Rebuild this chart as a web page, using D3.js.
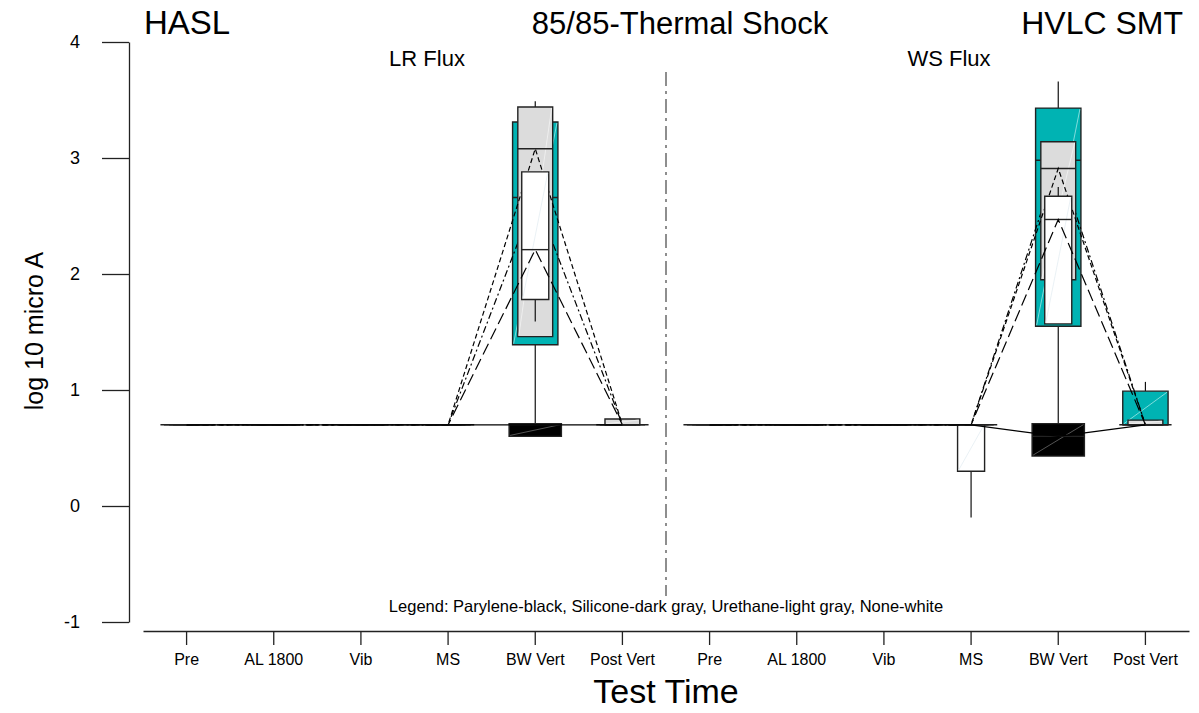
<!DOCTYPE html>
<html>
<head>
<meta charset="utf-8">
<script src="https://cdn.jsdelivr.net/npm/d3@7"></script>
<style>
  html, body { margin: 0; padding: 0; background: #fff; }
  svg { display: block; font-family: "Liberation Sans", Arial, sans-serif; }
</style>
</head>
<body>
<svg id="chart" width="1199" height="713"></svg>
<script>
// ---------------- DATA ----------------
const categories = ["Pre", "AL 1800", "Vib", "MS", "BW Vert", "Post Vert"];
const panelTitles = ["LR Flux", "WS Flux"];
const yTicks = [-1, 0, 1, 2, 3, 4];

// Each entry: [whiskerLow, q1, median, q3, whiskerHigh]; 12 entries = LR Flux (6) then WS Flux (6)
const parylene = [
  [0.70, 0.70, 0.70, 0.70, 0.70], [0.70, 0.70, 0.70, 0.70, 0.70], [0.70, 0.70, 0.70, 0.70, 0.70],
  [0.70, 0.70, 0.70, 0.70, 0.70], [0.60, 0.60, 0.70, 0.71, 0.71], [0.70, 0.70, 0.70, 0.70, 0.70],
  [0.70, 0.70, 0.70, 0.70, 0.70], [0.70, 0.70, 0.70, 0.70, 0.70], [0.70, 0.70, 0.70, 0.70, 0.70],
  [0.70, 0.70, 0.70, 0.70, 0.70], [0.43, 0.43, 0.60, 0.71, 0.71], [0.70, 0.70, 0.70, 0.70, 0.70]
];
const silicone = [
  [0.70, 0.70, 0.70, 0.70, 0.70], [0.70, 0.70, 0.70, 0.70, 0.70], [0.70, 0.70, 0.70, 0.70, 0.70],
  [0.70, 0.70, 0.70, 0.70, 0.70], [0.71, 1.39, 2.66, 3.31, 3.31], [0.70, 0.70, 0.70, 0.70, 0.70],
  [0.70, 0.70, 0.70, 0.70, 0.70], [0.70, 0.70, 0.70, 0.70, 0.70], [0.70, 0.70, 0.70, 0.70, 0.70],
  [0.70, 0.70, 0.70, 0.70, 0.70], [0.71, 1.55, 2.98, 3.43, 3.66], [0.70, 0.70, 0.70, 0.99, 1.07]
];
const urethane = [
  [0.70, 0.70, 0.70, 0.70, 0.70], [0.70, 0.70, 0.70, 0.70, 0.70], [0.70, 0.70, 0.70, 0.70, 0.70],
  [0.70, 0.70, 0.70, 0.70, 0.70], [1.46, 1.46, 3.08, 3.44, 3.49], [0.70, 0.70, 0.70, 0.75, 0.75],
  [0.70, 0.70, 0.70, 0.70, 0.70], [0.70, 0.70, 0.70, 0.70, 0.70], [0.70, 0.70, 0.70, 0.70, 0.70],
  [0.70, 0.70, 0.70, 0.70, 0.70], [1.95, 1.95, 2.91, 3.14, 3.14], [0.70, 0.70, 0.70, 0.74, 0.74]
];
const none = [
  [0.70, 0.70, 0.70, 0.70, 0.70], [0.70, 0.70, 0.70, 0.70, 0.70], [0.70, 0.70, 0.70, 0.70, 0.70],
  [0.70, 0.70, 0.70, 0.70, 0.70], [1.59, 1.78, 2.21, 2.88, 2.88], [0.70, 0.70, 0.70, 0.70, 0.70],
  [0.70, 0.70, 0.70, 0.70, 0.70], [0.70, 0.70, 0.70, 0.70, 0.70], [0.70, 0.70, 0.70, 0.70, 0.70],
  [-0.10, 0.30, 0.70, 0.70, 0.70], [1.57, 1.57, 2.47, 2.67, 2.75], [0.70, 0.70, 0.70, 0.70, 0.70]
];

// series drawing order (back to front)
const series = [
  { name: "Silicone",  data: silicone, fill: "#00b3b3", diag: "#9fe6e6", half: 0.26,  dash: "7,3,2,3" },
  { name: "Urethane",  data: urethane, fill: "#dcdcdc", diag: "#f3f3f3", half: 0.20,  dash: "5,3" },
  { name: "None",      data: none,     fill: "#ffffff", diag: "#e4eef2", half: 0.155, dash: "12,5" },
  { name: "Parylene",  data: parylene, fill: "#000000", diag: "#6a6a6a", half: 0.30,  dash: null }
];

// ---------------- LAYOUT ----------------
const svg = d3.select("#chart");
const keys = d3.range(categories.length * 2);
const x = d3.scaleBand().domain(keys).range([143, 1189]).paddingInner(0).paddingOuter(0);
const y = d3.scaleLinear().domain([-1, 4]).range([622, 42]);
const cx = i => x(i) + x.bandwidth() / 2;
const bw = x.bandwidth();
const FONT = "Liberation Sans, Arial, sans-serif";

// Y axis
const yAxis = svg.append("g")
  .attr("transform", "translate(129,0)")
  .call(d3.axisLeft(y).tickValues(yTicks).tickFormat(d => String(d)).tickSize(27).tickSizeOuter(0).tickPadding(22));
yAxis.selectAll("path, line").attr("stroke", "#222").attr("stroke-width", 1.3);
yAxis.selectAll("text").attr("font-size", 18).attr("fill", "#000").attr("font-family", FONT);

// X axis
const xAxis = svg.append("g")
  .attr("transform", "translate(0,631)")
  .call(d3.axisBottom(x).tickFormat(i => categories[i % categories.length]).tickSize(14).tickSizeOuter(0).tickPadding(9));
xAxis.selectAll("path, line").attr("stroke", "#222").attr("stroke-width", 1.3);
xAxis.selectAll("text").attr("font-size", 16).attr("fill", "#000").attr("font-family", FONT);

// Divider between panels
const divX = x(categories.length);
svg.append("line")
  .attr("x1", divX).attr("x2", divX).attr("y1", 72).attr("y2", 596)
  .attr("stroke", "#444").attr("stroke-width", 1.2).attr("stroke-dasharray", "14,5,3,5");

// ---------------- BOXES ----------------
const plot = svg.append("g");
const line = d3.line().x(d => d[0]).y(d => d[1]);

series.forEach(s => {
  const g = plot.append("g").attr("class", s.name);
  s.data.forEach((d, i) => {
    const c = cx(i), hw = bw * s.half;
    const x0 = c - hw, x1 = c + hw;
    const [lo, q1, med, q3, hi] = d;
    if (hi > q3) g.append("line").attr("x1", c).attr("x2", c).attr("y1", y(q3)).attr("y2", y(hi)).attr("stroke", "#111").attr("stroke-width", 1.2);
    if (lo < q1) g.append("line").attr("x1", c).attr("x2", c).attr("y1", y(q1)).attr("y2", y(lo)).attr("stroke", "#111").attr("stroke-width", 1.2);
    g.append("path")
      .attr("d", `M${x0},${y(q3)}H${x1}V${y(q1)}H${x0}Z`)
      .attr("fill", s.fill).attr("stroke", "#222").attr("stroke-width", 1.4);
    if (y(q1) - y(q3) > 3) {
      g.append("line").attr("x1", x0 + 1).attr("y1", y(q1) - 1).attr("x2", x1 - 1).attr("y2", y(q3) + 1)
        .attr("stroke", s.diag).attr("stroke-width", 0.8);
      g.append("line").attr("x1", x0).attr("x2", x1).attr("y1", y(med)).attr("y2", y(med))
        .attr("stroke", "#222").attr("stroke-width", 1.4);
    }
  });
  [0, 1].forEach(p => {
    const pts = d3.range(categories.length).map(j => {
      const i = p * categories.length + j;
      return [cx(i), y(s.data[i][2])];
    });
    g.append("path").attr("d", line(pts)).attr("fill", "none")
      .attr("stroke", "#000").attr("stroke-width", 1.2)
      .attr("stroke-dasharray", s.dash);
  });
});

// ---------------- TEXT ----------------
svg.append("text").attr("x", 144).attr("y", 34).attr("font-size", 33).text("HASL");
svg.append("text").attr("x", 680).attr("y", 34).attr("font-size", 31).attr("text-anchor", "middle").text("85/85-Thermal Shock");
svg.append("text").attr("x", 1183).attr("y", 34).attr("font-size", 32).attr("text-anchor", "end").text("HVLC SMT");
svg.append("text").attr("x", 427).attr("y", 66).attr("font-size", 22).attr("text-anchor", "middle").text(panelTitles[0]);
svg.append("text").attr("x", 949).attr("y", 66).attr("font-size", 22).attr("text-anchor", "middle").text(panelTitles[1]);
svg.append("text").attr("transform", "translate(43,331) rotate(-90)").attr("font-size", 25).attr("text-anchor", "middle").text("log 10 micro A");
svg.append("text").attr("x", 666).attr("y", 612).attr("font-size", 16.5).attr("text-anchor", "middle")
  .text("Legend: Parylene-black, Silicone-dark gray, Urethane-light gray, None-white");
svg.append("text").attr("x", 666).attr("y", 703).attr("font-size", 34).attr("text-anchor", "middle").text("Test Time");
</script>
</body>
</html>
